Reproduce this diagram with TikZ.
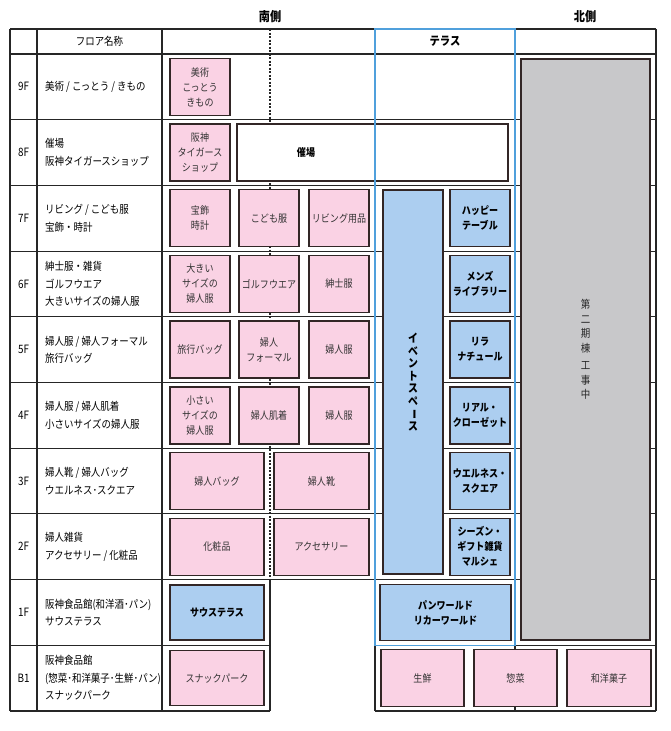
\documentclass[tikz,border=0pt]{standalone}
\usepackage{fontspec}
\setmainfont{Noto Sans CJK JP}[FakeStretch=0.86]
\usepackage{tikz}
\usetikzlibrary{positioning}

\definecolor{shoppink}{RGB}{250,210,228}
\definecolor{shopblue}{RGB}{172,206,240}
\definecolor{workgray}{RGB}{200,200,202}
\definecolor{terraceblue}{RGB}{80,160,220}
\definecolor{edge}{RGB}{50,38,38}

\tikzset{
  grid/.style={line width=1.1pt, draw=black!85},
  shop/.style={draw=edge, line width=1.4pt, align=center, inner sep=1pt, text=black!80,
    font=\fontsize{10.5}{15}\selectfont},
  pinkshop/.style={shop, fill=shoppink},
  blueshop/.style={shop, fill=shopblue, text=black, font=\fontsize{10.5}{15}\selectfont\bfseries},
  side/.style={font=\fontsize{13}{15}\selectfont\bfseries},
  head/.style={font=\fontsize{11}{13}\selectfont},
  floor/.style={font=\fontsize{11.5}{13}\selectfont},
  desc/.style={anchor=west, align=left, inner sep=0pt, font=\fontsize{11}{17.5}\selectfont},
}

\begin{document}
\begin{tikzpicture}[x=1pt, y=-1pt]
  \useasboundingbox (0,0) rectangle (670,731);
  % 見出し
  \node[side] (south) at (270,17) {南側};
  \node[side] (north) at (585,17) {北側};
  % 罫線
  \foreach \y in {29,54,119.7,185.4,251.1,316.8,382.5,448.2,513.9,579.6}
    \draw[grid] (10,\y) -- (656,\y);
  \foreach \y in {645.3,711} {
    \draw[grid] (10,\y) -- (270,\y);
    \draw[grid] (375,\y) -- (656,\y);
  }
  \foreach \x in {10,37,162,375,515,656}
    \draw[grid] (\x,29) -- (\x,711);
  \draw[grid] (270,579.6) -- (270,711);
  \draw[grid, line width=1.3pt, dash pattern=on 2pt off 1.5pt] (270,29) -- (270,579.6);
  \node[head] (floorname) at (99.5,41.5) {フロア名称};
  \node[side, font=\fontsize{12}{14}\selectfont\bfseries] (terracehead) at (445,41.5) {テラス};
  % 階
  \foreach \fl/\y in {9F/86.85, 8F/152.55, 7F/218.25, 6F/283.95, 5F/349.65,
      4F/415.35, 3F/481.05, 2F/546.75, 1F/612.45, B1/678.15}
    \node[floor] (fl\fl) at (23.5,\y) {\fl};
  % フロア名称
  \node[desc] (d9F) at (45,86.85) {美術 / こっとう / きもの};
  \node[desc] (d8F) at (45,152.55) {催場\\阪神タイガースショップ};
  \node[desc] (d7F) at (45,218.25) {リビング / こども服\\宝飾・時計};
  \node[desc] (d6F) at (45,283.95) {紳士服・雑貨\\ゴルフウエア\\大きいサイズの婦人服};
  \node[desc] (d5F) at (45,349.65) {婦人服 / 婦人フォーマル\\旅行バッグ};
  \node[desc] (d4F) at (45,415.35) {婦人服 / 婦人肌着\\小さいサイズの婦人服};
  \node[desc] (d3F) at (45,481.05) {婦人靴 / 婦人バッグ\\ウエルネス･スクエア};
  \node[desc] (d2F) at (45,546.75) {婦人雑貨\\アクセサリー / 化粧品};
  \node[desc] (d1F) at (45,612.45) {阪神食品館(和洋酒･パン)\\サウステラス};
  \node[desc] (dB1) at (45,678.15) {阪神食品館\\(惣菜･和洋菓子･生鮮･パン)\\スナックパーク};
  % 南側
  \node[pinkshop, minimum width=60, minimum height=57] (s9a) at (200,86.85) {美術\\こっとう\\きもの};
  \node[pinkshop, minimum width=60, minimum height=57] (s8a) at (200,152.55) {阪神\\タイガース\\ショップ};
  \node[shop, fill=white, minimum width=271, minimum height=57] (s8b) at (372.5,152.55) {};
  \node[font=\fontsize{10.5}{12}\selectfont\bfseries] (s8btxt) at (306,152.55) {催場};
  \node[pinkshop, minimum width=60, minimum height=57] (s7a) at (200,218.25) {宝飾\\時計};
  \node[pinkshop, minimum width=60, minimum height=57] (s7b) at (269,218.25) {こども服};
  \node[pinkshop, minimum width=60, minimum height=57] (s7c) at (339,218.25) {リビング用品};
  \node[pinkshop, minimum width=60, minimum height=57] (s6a) at (200,283.95) {大きい\\サイズの\\婦人服};
  \node[pinkshop, minimum width=60, minimum height=57] (s6b) at (269,283.95) {ゴルフウエア};
  \node[pinkshop, minimum width=60, minimum height=57] (s6c) at (339,283.95) {紳士服};
  \node[pinkshop, minimum width=60, minimum height=57] (s5a) at (200,349.65) {旅行バッグ};
  \node[pinkshop, minimum width=60, minimum height=57] (s5b) at (269,349.65) {婦人\\フォーマル};
  \node[pinkshop, minimum width=60, minimum height=57] (s5c) at (339,349.65) {婦人服};
  \node[pinkshop, minimum width=60, minimum height=57] (s4a) at (200,415.35) {小さい\\サイズの\\婦人服};
  \node[pinkshop, minimum width=60, minimum height=57] (s4b) at (269,415.35) {婦人肌着};
  \node[pinkshop, minimum width=60, minimum height=57] (s4c) at (339,415.35) {婦人服};
  \node[pinkshop, minimum width=94, minimum height=57] (s3a) at (217,481.05) {婦人バッグ};
  \node[pinkshop, minimum width=95, minimum height=57] (s3b) at (321.5,481.05) {婦人靴};
  \node[pinkshop, minimum width=94, minimum height=57] (s2a) at (217,546.75) {化粧品};
  \node[pinkshop, minimum width=95, minimum height=57] (s2b) at (321.5,546.75) {アクセサリー};
  \node[blueshop, minimum width=94, minimum height=55] (s1a) at (217,612.45) {サウステラス};
  \node[pinkshop, minimum width=94, minimum height=55] (sB1a) at (217,678.15) {スナックパーク};
  % テラス
  \node[blueshop, minimum width=60, minimum height=384, font=\fontsize{11.5}{12.5}\selectfont\bfseries]
    (event) at (413,382) {イ\\ベ\\ン\\ト\\ス\\ペ\\\rotatebox[origin=c]{-90}{ー}\\ス};
  \node[blueshop, minimum width=60, minimum height=57] (t7) at (480,218.25) {ハッピー\\テーブル};
  \node[blueshop, minimum width=60, minimum height=57] (t6) at (480,283.95) {メンズ\\ライブラリー};
  \node[blueshop, minimum width=60, minimum height=57] (t5) at (480,349.65) {リラ\\ナチュール};
  \node[blueshop, minimum width=60, minimum height=57] (t4) at (480,415.35) {リアル・\\クローゼット};
  \node[blueshop, minimum width=60, minimum height=57] (t3) at (480,481.05) {ウエルネス・\\スクエア};
  \node[blueshop, minimum width=60, minimum height=57] (t2) at (480,546.75) {シーズン・\\ギフト雑貨\\マルシェ};
  \node[blueshop, minimum width=131, minimum height=56] (t1) at (445.5,612.45) {パンワールド\\リカーワールド};
  % 北側
  \node[shop, fill=workgray, text=black!85, minimum width=129, minimum height=581,
    font=\fontsize{11}{14.5}\selectfont] (annex) at (585.5,349.5) {第\\二\\期\\棟\\[3pt]工\\事\\中};
  % 地下
  \node[pinkshop, minimum width=83, minimum height=57] (nB1a) at (422.5,678.15) {生鮮};
  \node[pinkshop, minimum width=83, minimum height=57] (nB1b) at (515.5,678.15) {惣菜};
  \node[pinkshop, minimum width=84, minimum height=57] (nB1c) at (609,678.15) {和洋菓子};
  % テラス枠
  \draw[terraceblue, line width=1.5pt] (375,29) rectangle (515,645.3);
\end{tikzpicture}
\end{document}
